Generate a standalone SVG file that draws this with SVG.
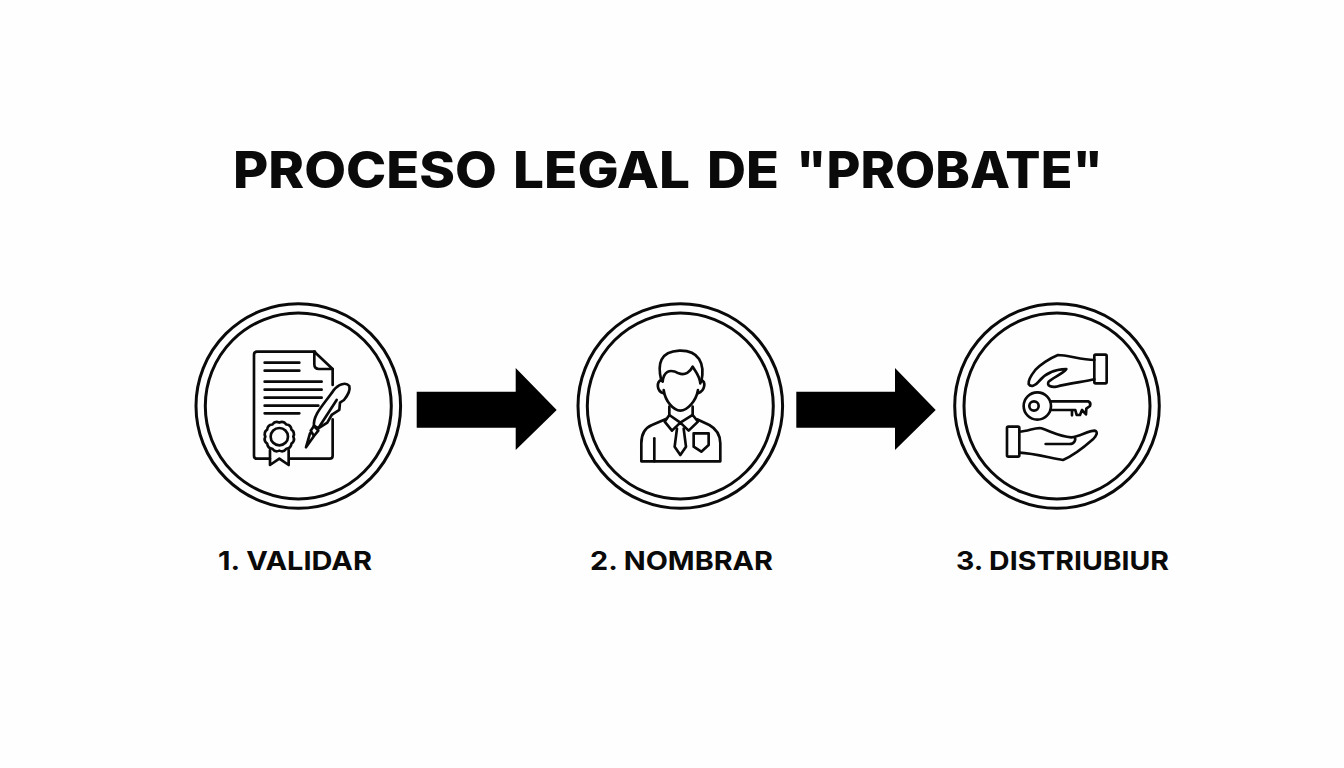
<svg xmlns="http://www.w3.org/2000/svg" width="1344" height="768" viewBox="0 0 1344 768">
<style>
.t{font-family:"Inter","Liberation Sans",sans-serif;font-weight:800;fill:#0a0a0a}
.l{font-family:"Inter","Liberation Sans",sans-serif;font-weight:700;fill:#0a0a0a}
.ring{fill:none;stroke:#0a0a0a;stroke-width:3}
.ic{fill:none;stroke:#0a0a0a;stroke-width:8;stroke-linecap:round;stroke-linejoin:round}
.bar{fill:#000}
</style>
<rect width="1344" height="768" fill="#fefefe"/>
<text id="title" class="t" y="188" font-size="51"><tspan x="233" textLength="264" lengthAdjust="spacingAndGlyphs">PROCESO</tspan> <tspan x="513" textLength="177" lengthAdjust="spacingAndGlyphs">LEGAL</tspan> <tspan x="707" textLength="72" lengthAdjust="spacingAndGlyphs">DE</tspan> <tspan x="796" textLength="307" lengthAdjust="spacingAndGlyphs">"PROBATE"</tspan></text>
<g id="connectors">
<path class="bar" d="M416.700 391.700H515.700V368L556.700 410L515.700 450V427.700H416.700Z"/>
<path class="bar" d="M796.300 391.700H895V368L935.700 410L895 450V427.700H796.300Z"/>
</g>
<g id="node-validar">
<circle class="ring" cx="298.300" cy="406" r="102.300"/>
<circle class="ring" cx="298.300" cy="406" r="93"/>
<g class="ic" transform="translate(190 300) scale(.3333)">
<path d="M375 155H201q-9 0-9 9V467q0 9 9 9H240M298 476H419q9 0 9-9V358M428 255V207"/>
<path d="M373 155L428 207H387q-14 0-14-14Z"/>
<path d="M224 188H328M224 212H328M224 245H395M224 269H395M224 293H395M224 317H385M224 340H328"/>
<path d="M310 410A17 17 0 0 1 304.400 431A17 17 0 0 1 289 446.400A17 17 0 0 1 268 452A17 17 0 0 1 247 446.400A17 17 0 0 1 231.600 431A17 17 0 0 1 226 410A17 17 0 0 1 231.600 389A17 17 0 0 1 247 373.600A17 17 0 0 1 268 368A17 17 0 0 1 289 373.600A17 17 0 0 1 304.400 389A17 17 0 0 1 310 410Z"/>
<circle cx="268" cy="410" r="26"/>
<path d="M240 450V495L268 476L296 495V450"/>
<path d="M372 378C368 345 400 315 430 272C445 252 468 245 478 258C482 272 470 290 462 300L450 308L448 330L425 345L412 368L385 385Z"/>
<path d="M372 378L385 385L440 300"/>
<path d="M362 392L372 378L385 392L372 408ZM360 400L348 442L372 408"/>
</g>
</g>
<g id="node-nombrar">
<circle class="ring" cx="680.300" cy="406" r="102.300"/>
<circle class="ring" cx="680.300" cy="406" r="93"/>
<g class="ic" transform="translate(572 300) scale(.3333)">
<path d="M268 242C255 190 265 155 322 152C380 150 400 190 388 245"/>
<path d="M272 245C275 215 292 205 320 220C340 228 355 215 362 200C370 215 382 225 385 250"/>
<path d="M268 240C254 245 252 272 275 280M388 240C402 245 400 272 378 280"/>
<path d="M275 270C280 305 305 332 325 332C345 332 372 305 378 270"/>
<path d="M292 320V345M362 320V345"/>
<path d="M292 345L278 365L300 392L325 368L350 392L378 365L362 345M292 345L325 368L362 345"/>
<path d="M282 357L240 375C215 385 208 405 208 430V484H445V430C445 400 430 385 412 375L375 358"/>
<path d="M247 415V484"/>
<path d="M315 386L308 440L325 465L342 440L335 386"/>
<path d="M365 400H410V435L388 455L365 440Z"/>
</g>
</g>
<g id="node-distribuir">
<circle class="ring" cx="1057" cy="406" r="102.300"/>
<circle class="ring" cx="1057" cy="406" r="93"/>
<g class="ic" transform="translate(948 300) scale(.3333)">
<rect x="439" y="164" width="37" height="86" rx="4"/>
<path d="M439 180C400 180 360 165 330 165C305 175 275 195 262 210C250 225 240 240 242 252C248 262 262 258 272 245C285 228 310 208 355 207C345 222 315 232 302 245C295 258 310 262 325 260C360 250 410 245 439 238"/>
<circle cx="268" cy="318" r="41"/>
<circle cx="258" cy="318" r="14"/>
<path d="M307 304H420Q430 308 426 318L415 326L414 343L402 330L396 345H386L382 330H372V346M372 330H307"/>
<rect x="177" y="380" width="37" height="90" rx="4"/>
<path d="M214 395C240 395 265 380 280 385C310 395 335 410 370 412C395 410 420 392 440 392C452 395 445 408 435 418C410 440 370 470 345 480C310 475 260 460 214 458"/>
<path d="M293 432H365C378 432 385 420 380 412"/>
</g>
</g>
<text id="label-1" class="l" x="218" y="570" font-size="26" textLength="154" lengthAdjust="spacingAndGlyphs">1. VALIDAR</text>
<text id="label-2" class="l" x="590" y="570" font-size="26" textLength="183" lengthAdjust="spacingAndGlyphs">2. NOMBRAR</text>
<text id="label-3" class="l" x="956" y="570" font-size="26" textLength="213" lengthAdjust="spacingAndGlyphs">3. DISTRIUBIUR</text>
</svg>
